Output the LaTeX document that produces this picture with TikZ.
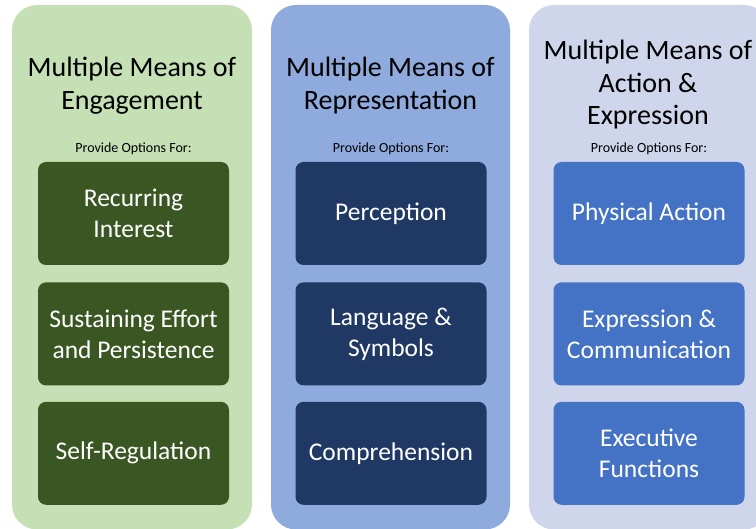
\documentclass[tikz,border=0pt]{standalone}
\usepackage{fontspec}
\setmainfont{Carlito}
\usetikzlibrary{positioning}
\definecolor{engpanel}{HTML}{C5E0B4}
\definecolor{engbox}{HTML}{3A5723}
\definecolor{reppanel}{HTML}{8FAADC}
\definecolor{repbox}{HTML}{203864}
\definecolor{actpanel}{HTML}{CFD5EA}
\definecolor{actbox}{HTML}{4472C4}
\tikzset{
  panel/.style={rectangle, rounded corners=25pt, minimum width=240pt, minimum height=524.5pt, inner sep=0pt},
  optbox/.style={rectangle, rounded corners=8pt, minimum width=191pt, minimum height=103pt, inner sep=0pt,
    text=white, align=center, font=\fontsize{25.5}{31}\selectfont},
  heading/.style={align=center, font=\fontsize{28}{32.5}\selectfont},
  provide/.style={font=\fontsize{14}{16}\selectfont}
}
\begin{document}
\begin{tikzpicture}[x=1pt, y=-1pt]
  \useasboundingbox (0,0) rectangle (756,529);
  \node[panel, fill=engpanel] (engage) at (132,267.25) {};
  \node[panel, fill=reppanel, minimum width=239pt] (represent) at (390.5,267.25) {};
  \node[panel, fill=actpanel] (express) at (649,267.25) {};

  \node[heading] (engtitle) at (132,85.5) {Multiple Means of\\Engagement};
  \node[heading] (reptitle) at (390.5,85.5) {Multiple Means of\\Representation};
  \node[heading] (acttitle) at (648,85) {Multiple Means of\\Action \&\\Expression};

  \node[provide] (engprov) at (133.5,148.5) {Provide Options For:};
  \node[provide] (repprov) at (391,148.5) {Provide Options For:};
  \node[provide] (actprov) at (649,148.5) {Provide Options For:};

  \node[optbox, fill=engbox] (interest) at (133.5,213.5) {Recurring\\Interest};
  \node[optbox, fill=engbox, below=17pt of interest] (effort) {Sustaining Effort\\and Persistence};
  \node[optbox, fill=engbox, below=16pt of effort] (selfreg) {Self-Regulation};

  \node[optbox, fill=repbox] (perception) at (391,213.5) {Perception};
  \node[optbox, fill=repbox, below=17pt of perception] (language) {Language \&\\Symbols};
  \node[optbox, fill=repbox, below=16pt of language] (comprehension) {Comprehension};

  \node[optbox, fill=actbox] (physical) at (649,213.5) {Physical Action};
  \node[optbox, fill=actbox, below=17pt of physical] (communication) {Expression \&\\Communication};
  \node[optbox, fill=actbox, below=16pt of communication] (executive) {Executive\\Functions};
\end{tikzpicture}
\end{document}
